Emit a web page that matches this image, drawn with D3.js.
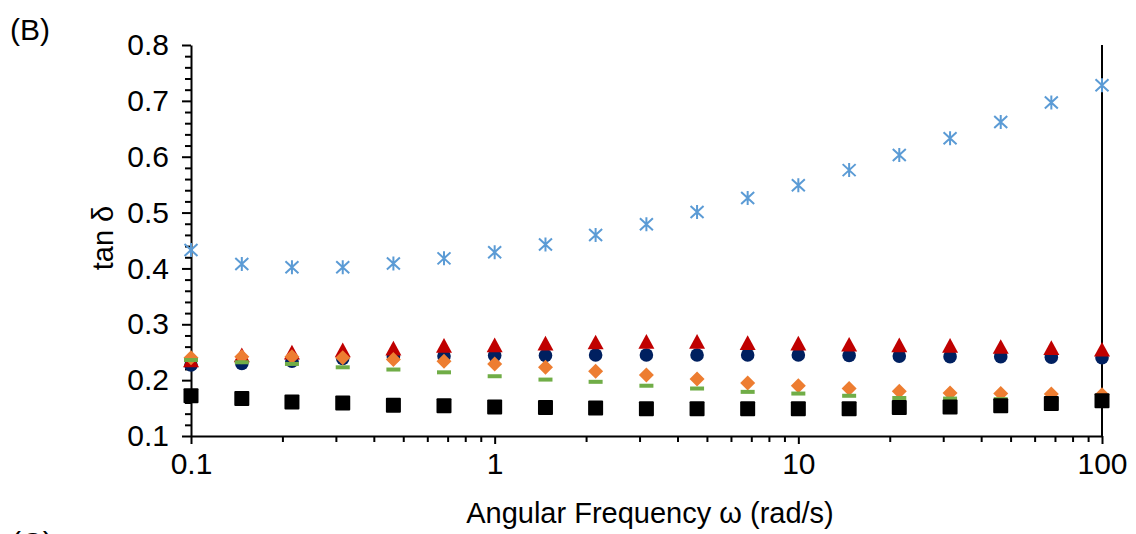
<!DOCTYPE html>
<html>
<head>
<meta charset="utf-8">
<script src="https://cdn.jsdelivr.net/npm/d3@7"></script>
<style>
  html, body { margin: 0; padding: 0; background: #fff; }
  svg { display: block; font-family: "Liberation Sans", Arial, sans-serif; }
</style>
</head>
<body>
<svg id="chart" width="1136" height="534"></svg>
<script>
// Angular frequency sweep (rad/s)
const freq = [0.1, 0.147, 0.215, 0.316, 0.464, 0.681, 1, 1.47, 2.15, 3.16, 4.64, 6.81, 10, 14.7, 21.5, 31.6, 46.4, 68.1, 100];

// tan δ for each sample
const starVals     = [0.433, 0.408, 0.402, 0.402, 0.409, 0.418, 0.429, 0.443, 0.460, 0.479, 0.501, 0.526, 0.549, 0.576, 0.603, 0.633, 0.662, 0.697, 0.728];
const circleVals   = [0.227, 0.230, 0.234, 0.239, 0.242, 0.243, 0.244, 0.244, 0.245, 0.245, 0.245, 0.245, 0.245, 0.244, 0.243, 0.242, 0.242, 0.241, 0.240];
const triangleVals = [0.236, 0.245, 0.250, 0.254, 0.257, 0.262, 0.263, 0.266, 0.268, 0.269, 0.269, 0.267, 0.266, 0.264, 0.263, 0.262, 0.260, 0.258, 0.255];
const diamondVals  = [0.240, 0.242, 0.242, 0.240, 0.237, 0.234, 0.229, 0.223, 0.216, 0.209, 0.202, 0.195, 0.190, 0.185, 0.180, 0.177, 0.176, 0.175, 0.174];
const dashVals     = [0.236, 0.232, 0.229, 0.223, 0.219, 0.214, 0.207, 0.201, 0.197, 0.190, 0.185, 0.179, 0.176, 0.172, 0.168, 0.167, 0.166, 0.165, 0.164];
const squareVals   = [0.172, 0.167, 0.161, 0.159, 0.155, 0.154, 0.152, 0.151, 0.150, 0.149, 0.149, 0.149, 0.149, 0.149, 0.151, 0.152, 0.154, 0.158, 0.163];

// axis ticks
const xTicks = [0.1, 1, 10, 100];
const xTickLabels = ["0.1", "1", "10", "100"];
const yTicks = [0.1, 0.2, 0.3, 0.4, 0.5, 0.6, 0.7, 0.8];
const yTickLabels = ["0.1", "0.2", "0.3", "0.4", "0.5", "0.6", "0.7", "0.8"];
const yMinorTicks = [0.12,0.14,0.16,0.18,0.22,0.24,0.26,0.28,0.32,0.34,0.36,0.38,0.42,0.44,0.46,0.48,0.52,0.54,0.56,0.58,0.62,0.64,0.66,0.68,0.72,0.74,0.76,0.78];
const xMinorTicks = [0.2,0.3,0.4,0.5,0.6,0.7,0.8,0.9,2,3,4,5,6,7,8,9,20,30,40,50,60,70,80,90];

const svg = d3.select("#chart");
const x = d3.scaleLog().domain([0.1, 100]).range([191, 1102]);
const y = d3.scaleLinear().domain([0.1, 0.8]).range([436, 45]);
const tickFont = 30;
const titleFont = 29;

// panel letters
svg.append("text").attr("x", 10).attr("y", 40).attr("font-size", tickFont).attr("fill", "#000").text("(B)");
svg.append("text").attr("x", 11).attr("y", 553).attr("font-size", tickFont).attr("fill", "#000").text("(C)");

// right-hand boundary at ω = 100
svg.append("line")
  .attr("x1", x(100)).attr("x2", x(100))
  .attr("y1", y(0.8)).attr("y2", y(0.1))
  .attr("stroke", "#000").attr("stroke-width", 2);

// x axis: minor ticks, then major ticks with labels
const gxMinor = svg.append("g").attr("transform", `translate(0,${y(0.1)})`)
  .call(d3.axisBottom(x).tickValues(xMinorTicks).tickSize(6).tickFormat(""));
gxMinor.select(".domain").remove();
const gx = svg.append("g").attr("transform", `translate(0,${y(0.1)})`)
  .call(d3.axisBottom(x).tickValues(xTicks).tickSize(8).tickSizeOuter(0).tickPadding(9)
    .tickFormat((d, i) => xTickLabels[i]));

// y axis
const gyMinor = svg.append("g").attr("transform", `translate(${x(0.1)},0)`)
  .call(d3.axisLeft(y).tickValues(yMinorTicks).tickSize(6).tickFormat(""));
gyMinor.select(".domain").remove();
const gy = svg.append("g").attr("transform", `translate(${x(0.1)},0)`)
  .call(d3.axisLeft(y).tickValues(yTicks).tickSize(9).tickSizeOuter(0).tickPadding(13)
    .tickFormat((d, i) => yTickLabels[i]));

svg.selectAll(".domain").attr("stroke", "#000").attr("stroke-width", 2);
svg.selectAll(".tick line").attr("stroke", "#000").attr("stroke-width", 2);
svg.selectAll(".tick text").attr("font-size", tickFont).attr("fill", "#000")
  .attr("font-family", "Liberation Sans, Arial, sans-serif");

// axis titles
svg.append("text")
  .attr("x", 650).attr("y", 523).attr("text-anchor", "middle")
  .attr("font-size", titleFont).attr("fill", "#000")
  .text("Angular Frequency ω (rad/s)");
svg.append("text")
  .attr("transform", "translate(113,238) rotate(-90)")
  .attr("text-anchor", "middle")
  .attr("font-size", titleFont).attr("fill", "#000")
  .text("tan δ");

const pts = vals => vals.map((v, i) => ({ f: freq[i], v }));
const marks = svg.append("g");

// asterisk markers
marks.append("g").selectAll("path").data(pts(starVals)).join("path")
  .attr("transform", d => `translate(${x(d.f)},${y(d.v)})`)
  .attr("d", "M0,-7V7M-6.5,-6L6.5,6M-6.5,6L6.5,-6")
  .attr("stroke", "#5B9BD5").attr("stroke-width", 2).attr("fill", "none");

// circles
marks.append("g").selectAll("circle").data(pts(circleVals)).join("circle")
  .attr("cx", d => x(d.f)).attr("cy", d => y(d.v)).attr("r", 6.8)
  .attr("fill", "#002060");

// triangles
marks.append("g").selectAll("path").data(pts(triangleVals)).join("path")
  .attr("transform", d => `translate(${x(d.f)},${y(d.v)})`)
  .attr("d", "M0,-7.5L8,7.2L-8,7.2Z")
  .attr("fill", "#C00000");

// diamonds
marks.append("g").selectAll("path").data(pts(diamondVals)).join("path")
  .attr("transform", d => `translate(${x(d.f)},${y(d.v)})`)
  .attr("d", "M0,-7.5L7.5,0L0,7.5L-7.5,0Z")
  .attr("fill", "#ED7D31");

// dashes
marks.append("g").selectAll("rect").data(pts(dashVals)).join("rect")
  .attr("x", d => x(d.f) - 7).attr("y", d => y(d.v) - 2)
  .attr("width", 14).attr("height", 4)
  .attr("fill", "#70AD47");

// squares
marks.append("g").selectAll("rect").data(pts(squareVals)).join("rect")
  .attr("x", d => x(d.f) - 7.5).attr("y", d => y(d.v) - 7.5)
  .attr("width", 15).attr("height", 15).attr("rx", 1)
  .attr("fill", "#000");
</script>
</body>
</html>
